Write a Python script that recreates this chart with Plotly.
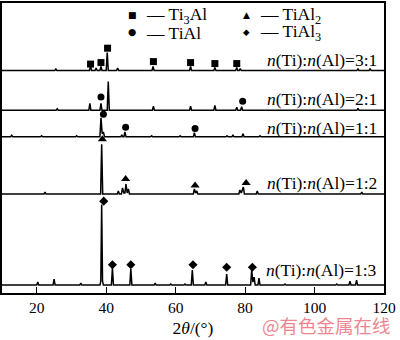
import plotly.graph_objects as go

# ---------------- data ----------------
ratio_labels = ["3:1", "2:1", "1:1", "1:2", "1:3"]
offsets = [224, 184, 157.3, 99.7, 8]          # vertical stacking offsets (a.u.)
x_ticks = [20, 40, 60, 80, 100, 120]
phase_names = ["Ti<sub>3</sub>Al", "TiAl<sub>2</sub>", "TiAl", "TiAl<sub>3</sub>"]

# (2theta, intensity) points of each XRD pattern
pat_31 = [(10,0),(25.2,0),(25.5,1.5),(25.8,0),(35.2,0),(35.5,5),(35.8,0),(36.8,0),(37.1,2.5),(37.4,0),
          (38.2,0),(38.5,4),(38.8,0),(40.0,0),(40.3,18),(40.6,0),(43.0,0),(43.3,2.5),(43.6,0),
          (53.2,0),(53.5,4),(53.8,0),(64.0,0),(64.3,4),(64.6,0),(71.0,0),(71.3,3),(71.6,0),
          (77.3,0),(77.6,3),(77.9,0),(78.3,0),(78.6,2),(78.9,0),(112.2,0),(112.5,2),(112.8,0),
          (115.7,0),(116.0,2),(116.3,0),(120,0)]
pat_21 = [(10,0),(25.6,0),(25.9,1.5),(26.2,0),(35.0,0),(35.3,7),(35.6,0),(38.2,0),(38.5,7),(38.8,0),
          (40.3,0),(40.6,29),(40.9,0),(53.3,0),(53.6,4),(53.9,0),(64.0,0),(64.3,4),(64.6,0),
          (71.0,0),(71.3,5),(71.6,0),(77.3,0),(77.6,3),(77.9,0),(78.7,0),(79.0,3.5),(79.3,0),
          (112.2,0),(112.5,2),(112.8,0),(120,0)]
pat_11 = [(10,0),(12.5,0),(12.8,1.5),(13.1,0),(21.1,0),(21.4,1),(21.7,0),(31.2,0),(31.5,1),(31.8,0),
          (38.2,0),(38.5,19),(38.85,3),(39.2,5),(39.5,0),(44.2,0),(44.5,2),(44.8,0),(45.1,0),(45.4,5),(45.7,0),
          (52.8,0),(53.1,1),(53.4,0),(61.0,0),(61.3,1),(61.6,0),(65.1,0),(65.4,4),(65.7,0),
          (74.5,0),(74.8,1),(75.1,0),(76.2,0),(76.5,1.5),(76.8,0),(79.1,0),(79.4,3),(79.7,0),
          (84.0,0),(84.3,1),(84.6,0),(120,0)]
pat_12 = [(10,0),(22.1,0),(22.4,2),(22.7,0),(38.4,0),(38.7,50),(39.0,0),(43.2,0),(43.5,3),(43.8,0),
          (44.4,0),(44.7,6),(45.1,1),(45.4,1),(45.7,10),(46.05,1),(46.4,5),(46.7,0),
          (65.1,0),(65.4,5),(65.75,1),(66.1,3),(66.4,0),(78.2,0),(78.5,4),(78.9,1),(79.5,7),(79.8,0),
          (83.2,0),(83.5,3),(83.8,0),(113.3,0),(113.6,2),(113.9,0),(120,0)]
pat_13 = [(10,0),(20.0,0),(20.3,3),(20.6,0),(24.7,0),(25.0,6),(25.3,0),(32.4,0),(32.7,2),(33.0,0),
          (38.2,0),(38.45,4),(38.7,81),(38.95,4),(39.2,0),(41.5,0),(41.8,17),(42.1,0),(46.8,0),(47.1,16),(47.4,0),
          (53.8,0),(54.1,2),(54.4,0),(58.3,0),(58.6,1),(58.9,0),(62.4,0),(62.7,1),(63.0,0),
          (64.5,0),(64.8,15),(65.1,0),(68.4,0),(68.7,3),(69.0,0),(74.4,0),(74.7,11),(75.0,0),
          (81.6,0),(81.9,15),(82.25,3),(82.6,8),(82.9,0),(83.7,0),(84.0,7),(84.3,0),
          (91.2,0),(91.5,1),(91.8,0),(106.1,0),(106.4,1),(106.7,0),(109.9,0),(110.2,4),(110.5,0),
          (111.8,0),(112.1,5),(112.4,0),(120,0)]
patterns = [pat_31, pat_21, pat_11, pat_12, pat_13]

# phase markers: pattern index, 2theta, height above that pattern's baseline
ti3al_pat = [0, 0, 0, 0, 0, 0, 0]
ti3al_x = [35.5, 38.5, 40.4, 53.6, 64.3, 71.3, 77.6]
ti3al_dy = [6.5, 8, 22.5, 9, 8, 7, 7]
tial2_pat = [3, 3, 3, 3]
tial2_x = [38.9, 45.6, 65.6, 80.3]
tial2_dy = [55, 15, 8.5, 11]
tial_pat = [1, 1, 2, 2, 2]
tial_x = [38.5, 79.3, 39.2, 45.6, 65.6]
tial_dy = [13.3, 9, 22.7, 9.7, 8.4]
tial3_pat = [4, 4, 4, 4, 4, 4]
tial3_x = [39.3, 41.8, 47.1, 65.0, 74.7, 82.1]
tial3_dy = [84.5, 20.5, 20.5, 20.5, 18, 18]

# ---------------- figure ----------------
SERIF = "Liberation Serif"
W, H = 400, 340
ML, MR, MT, MB = 2, 16, 1, 47
PW, PH = W - ML - MR, H - MT - MB

def px(xp):
    return (xp - ML) / PW

def py(yp):
    return (H - MB - yp) / PH

fig = go.Figure()

for pts, off in zip(patterns, offsets):
    xs = [p[0] for p in pts]
    ys = [p[1] + off for p in pts]
    fig.add_trace(go.Scatter(x=xs, y=ys, mode="lines", showlegend=False,
                             line=dict(color="black", width=1.5), hoverinfo="skip"))

phase_sets = [
    (ti3al_pat, ti3al_x, ti3al_dy, "square", 7, "■", 9),
    (tial2_pat, tial2_x, tial2_dy, "triangle-up", 8, "▲", 9),
    (tial_pat, tial_x, tial_dy, "circle", 7, "●", 9.5),
    (tial3_pat, tial3_x, tial3_dy, "diamond", 7, "◆", 8.5),
]
for pats, xs, dys, sym, size, glyph, gsize in phase_sets:
    ys = [offsets[p] + d for p, d in zip(pats, dys)]
    fig.add_trace(go.Scatter(x=xs, y=ys, mode="markers", showlegend=False, hoverinfo="skip",
                             marker=dict(symbol=sym, size=size, color="black")))

# hand-made legend (2 x 2)
leg_pos = [(132, 13), (246, 13), (132, 30), (246, 30)]
for (xs_, ys_), name, ps in zip(leg_pos, phase_names, phase_sets):
    fig.add_annotation(x=px(xs_), y=py(ys_), xref="paper", yref="paper", xanchor="center",
                       yanchor="middle", text=ps[5], showarrow=False,
                       font=dict(family="DejaVu Sans", size=ps[6], color="black"))
    fig.add_annotation(x=px(xs_ + 12), y=py(ys_ + 1), xref="paper", yref="paper", xanchor="left",
                       yanchor="middle", text="— " + name, showarrow=False,
                       font=dict(family=SERIF, size=17.5, color="black"))

label_dy = [11, 11, 9, 11.3, 15]
for lab, off, d in zip(ratio_labels, offsets, label_dy):
    fig.add_annotation(x=118.7, y=off + d, xref="x", yref="y", xanchor="right", yanchor="middle",
                       text="<i>n</i>(Ti):<i>n</i>(Al)=" + lab, showarrow=False,
                       font=dict(family=SERIF, size=17.5, color="black"))

fig.add_annotation(x=px(326), y=py(325), xref="paper", yref="paper",
                   xanchor="center", yanchor="middle", text="@有色金属在线", showarrow=False,
                   font=dict(family="Noto Sans CJK SC", size=18.5, color="rgba(236,110,122,0.85)"))

fig.update_layout(
    width=W, height=H,
    margin=dict(l=ML, r=MR, t=MT, b=MB),
    paper_bgcolor="white", plot_bgcolor="white",
    showlegend=False,
    xaxis=dict(range=[10, 120], tickvals=x_ticks, ticks="inside", ticklen=6, tickwidth=1.2,
               tickcolor="black", showline=True, linecolor="black", linewidth=1.5, mirror=True,
               showgrid=False, zeroline=False,
               tickfont=dict(family=SERIF, size=15.5, color="black"),
               title=dict(text="2<i>θ</i>/(°)", font=dict(family=SERIF, size=17.5, color="black"),
                          standoff=6)),
    yaxis=dict(range=[0, 292], showticklabels=False, ticks="", showline=True, linecolor="black",
               linewidth=1.5, mirror=True, showgrid=False, zeroline=False),
)

fig.write_html("out.html")
